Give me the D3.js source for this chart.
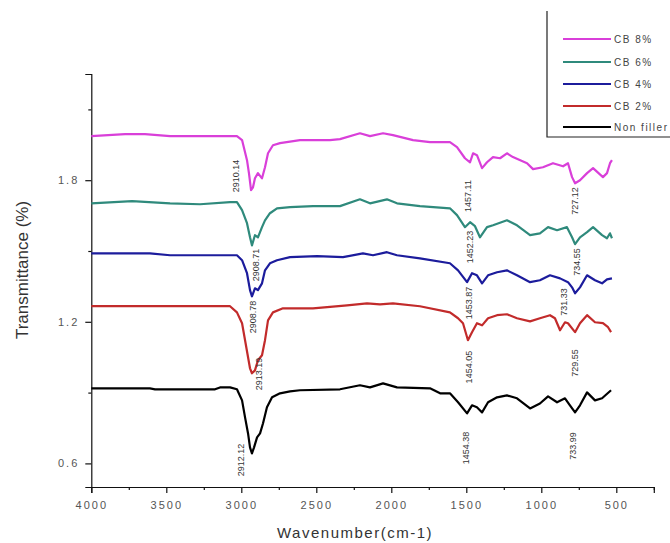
<!DOCTYPE html>
<html>
<head>
<meta charset="utf-8">
<script src="https://cdn.jsdelivr.net/npm/d3@7"></script>
<style>
  body { margin: 0; background: #fff; }
  svg { font-family: "Liberation Sans", Arial, sans-serif; }
</style>
</head>
<body>
<svg id="chart" width="670" height="543"></svg>
<script>
// FTIR spectra, [wavenumber, transmittance]
const cb8 = [[4000,1.987],[3775,1.995],[3642,1.995],[3475,1.987],[3029,1.987],[2995,1.970],[2962,1.885],[2949,1.830],
    [2935,1.758],[2922,1.770],[2909,1.808],[2889,1.830],[2862,1.808],[2842,1.855],[2822,1.914],[2789,1.948],[2742,1.957],
    [2609,1.970],[2409,1.970],[2342,1.974],[2209,1.999],[2142,1.987],[2055,1.999],[1989,1.991],[1855,1.970],[1742,1.961],
    [1609,1.961],[1562,1.940],[1509,1.893],[1475,1.876],[1455,1.914],[1429,1.906],[1395,1.851],[1362,1.876],[1322,1.898],
    [1275,1.893],[1229,1.914],[1189,1.898],[1095,1.872],[1055,1.847],[989,1.855],[922,1.872],[855,1.859],[822,1.872],
    [795,1.813],[775,1.787],[742,1.800],[695,1.830],[655,1.851],[589,1.813],[562,1.830],[542,1.872],[529,1.885]];

const cb6 = [[4000,1.702],[3728,1.711],[3475,1.702],[3275,1.698],[3075,1.707],[3029,1.707],[2995,1.673],[2962,1.618],
    [2942,1.558],[2929,1.524],[2909,1.567],[2889,1.558],[2862,1.601],[2842,1.630],[2809,1.660],[2762,1.681],[2675,1.686],
    [2522,1.690],[2342,1.690],[2209,1.719],[2142,1.702],[2029,1.719],[1962,1.702],[1809,1.690],[1609,1.681],[1562,1.652],
    [1509,1.601],[1475,1.622],[1442,1.605],[1409,1.558],[1362,1.601],[1322,1.609],[1229,1.630],[1162,1.609],[1075,1.567],
    [1009,1.575],[955,1.601],[895,1.588],[829,1.601],[795,1.558],[775,1.529],[742,1.558],[695,1.580],[655,1.601],
    [595,1.567],[562,1.554],[542,1.575],[529,1.554]];

const cb4 = [[4000,1.490],[3609,1.490],[3475,1.482],[3029,1.482],[2995,1.461],[2962,1.406],[2942,1.334],[2929,1.308],
    [2909,1.342],[2889,1.334],[2862,1.363],[2842,1.418],[2809,1.448],[2762,1.461],[2675,1.474],[2495,1.478],[2322,1.474],
    [2189,1.490],[2122,1.482],[2029,1.495],[1962,1.482],[1809,1.469],[1609,1.448],[1555,1.418],[1495,1.368],[1462,1.406],
    [1429,1.397],[1395,1.363],[1355,1.397],[1295,1.410],[1229,1.418],[1162,1.397],[1075,1.368],[1009,1.376],[942,1.397],
    [875,1.384],[822,1.368],[795,1.346],[775,1.321],[742,1.346],[695,1.397],[642,1.376],[595,1.363],[562,1.380],[529,1.384]];

const cb2 = [[4000,1.266],[3075,1.266],[3029,1.240],[2995,1.194],[2975,1.122],[2955,1.050],[2942,1.003],[2929,0.982],
    [2909,0.994],[2889,1.037],[2862,1.058],[2842,1.122],[2822,1.206],[2789,1.240],[2722,1.257],[2522,1.257],[2295,1.270],
    [2162,1.278],[2075,1.274],[1989,1.278],[1809,1.266],[1609,1.240],[1555,1.215],[1522,1.194],[1489,1.122],[1462,1.156],
    [1429,1.194],[1395,1.185],[1355,1.215],[1295,1.228],[1229,1.232],[1162,1.215],[1075,1.202],[1009,1.215],[942,1.228],
    [909,1.215],[875,1.164],[842,1.198],[822,1.194],[775,1.156],[742,1.194],[695,1.228],[642,1.198],[589,1.194],
    [555,1.177],[535,1.156]];

const nonFiller = [[4000,0.918],[3609,0.918],[3575,0.914],[3175,0.914],[3142,0.922],[3075,0.922],[3029,0.914],[2995,0.867],
    [2975,0.795],[2955,0.727],[2942,0.668],[2929,0.642],[2915,0.668],[2895,0.710],[2875,0.727],[2855,0.770],[2829,0.838],
    [2795,0.880],[2742,0.897],[2675,0.905],[2609,0.910],[2342,0.914],[2209,0.931],[2142,0.922],[2055,0.939],[1962,0.922],
    [1742,0.918],[1675,0.897],[1609,0.897],[1555,0.859],[1495,0.812],[1462,0.846],[1429,0.838],[1395,0.816],[1355,0.859],
    [1295,0.880],[1229,0.888],[1162,0.876],[1075,0.833],[1009,0.854],[955,0.884],[895,0.859],[842,0.876],[809,0.846],
    [775,0.816],[742,0.846],[695,0.901],[642,0.867],[595,0.876],[535,0.910]];

const seriesNames = ["CB 8%", "CB 6%", "CB 4%", "CB 2%", "Non filler"];
const seriesData = [cb8, cb6, cb4, cb2, nonFiller];
const seriesColors = ["#d93fd9", "#2f8a7c", "#1c1c9c", "#c22b2b", "#000000"];

// peak annotations: text, wavenumber and transmittance of label centre
const peakText = ["2910.14", "2908.71", "2908.78", "2913.19", "2912.12",
    "1457.11", "1452.23", "1453.87", "1454.05", "1454.38",
    "727.12", "734.55", "731.33", "729.55", "733.99"];
const peakW = [3035, 2902, 2922, 2882, 3002, 1489, 1475, 1482, 1482, 1502, 775, 762, 849, 775, 789];
const peakT = [1.818, 1.441, 1.220, 0.979, 0.614, 1.733, 1.517, 1.280, 1.008, 0.665, 1.712, 1.453, 1.284, 1.025, 0.674];

const xMajor = [4000, 3500, 3000, 2500, 2000, 1500, 1000, 500];
const xMinor = [3750, 3250, 2750, 2250, 1750, 1250, 750, 250];
const yMajor = [0.6, 1.2, 1.8];
const yMinor = [0.9, 1.5, 2.1];

const svg = d3.select("#chart");

const x = d3.scaleLinear().domain([4000, 250]).range([91.3, 653.8]);
const y = d3.scaleLinear().domain([0.5, 2.25]).range([487, 74]);

// axes
const gx = svg.append("g").attr("transform", `translate(0,${y(0.5)})`);
gx.call(d3.axisBottom(x).tickValues(xMajor).tickSize(6).tickPadding(8).tickFormat(d3.format("d")));
gx.append("g").call(d3.axisBottom(x).tickValues(xMinor).tickSize(3).tickFormat(""))
    .call(g => g.select(".domain").remove());

const gy = svg.append("g").attr("transform", `translate(${x(4000)},0)`);
gy.call(d3.axisLeft(y).tickValues(yMajor).tickSize(6).tickPadding(6).tickFormat(d3.format(".1f")));
gy.append("g").call(d3.axisLeft(y).tickValues(yMinor).tickSize(3).tickFormat(""))
    .call(g => g.select(".domain").remove());

svg.selectAll(".domain").attr("stroke", "#111").attr("stroke-width", 1.2);
svg.selectAll(".tick line").attr("stroke", "#111").attr("stroke-width", 1.2);
svg.selectAll(".tick text")
    .attr("fill", "#555")
    .attr("font-size", 11)
    .style("letter-spacing", "2px");

// axis titles
svg.append("text")
    .attr("x", 355).attr("y", 538)
    .attr("text-anchor", "middle")
    .attr("font-size", 15)
    .attr("fill", "#333")
    .style("letter-spacing", "1.5px")
    .text("Wavenumber(cm-1)");

svg.append("text")
    .attr("transform", "translate(28,270) rotate(-90)")
    .attr("text-anchor", "middle")
    .attr("font-size", 17)
    .attr("fill", "#333")
    .text("Transmittance (%)");

// spectra
const line = d3.line()
    .x(d => x(d[0]))
    .y(d => y(d[1]));

seriesData.forEach((data, i) => {
    svg.append("path")
        .datum(data)
        .attr("fill", "none")
        .attr("stroke", seriesColors[i])
        .attr("stroke-width", 2.2)
        .attr("stroke-linejoin", "round")
        .attr("d", line);
});

// peak labels
svg.selectAll(".peak")
    .data(peakText)
    .enter()
    .append("text")
    .attr("class", "peak")
    .attr("transform", (d, i) => `translate(${x(peakW[i])},${y(peakT[i])}) rotate(-90)`)
    .attr("text-anchor", "middle")
    .attr("dy", "0.35em")
    .attr("font-size", 9)
    .attr("fill", "#333")
    .text(d => d);

// legend (box runs off the right edge)
svg.append("path")
    .attr("d", "M547,11 V137 H672")
    .attr("fill", "none")
    .attr("stroke", "#222")
    .attr("stroke-width", 1.2);

const legendY = [39, 62, 84, 106, 127];
seriesNames.forEach((name, i) => {
    svg.append("line")
        .attr("x1", 563).attr("x2", 611)
        .attr("y1", legendY[i]).attr("y2", legendY[i])
        .attr("stroke", seriesColors[i])
        .attr("stroke-width", 2.2);
    svg.append("text")
        .attr("x", 614).attr("y", legendY[i])
        .attr("dy", "0.35em")
        .attr("font-size", 10)
        .attr("fill", "#444")
        .style("letter-spacing", "1.5px")
        .text(name);
});
</script>
</body>
</html>
